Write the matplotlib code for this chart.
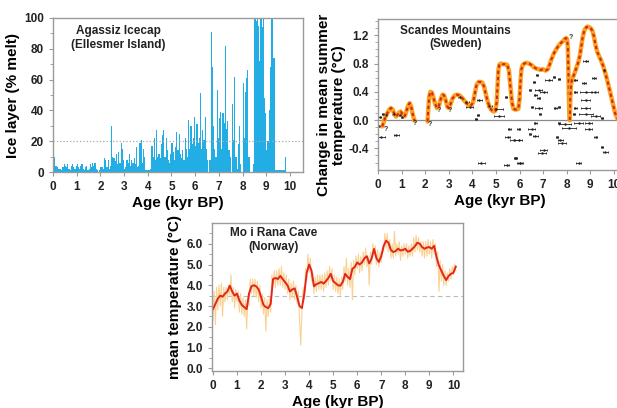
import matplotlib
matplotlib.use("Agg")
import matplotlib.pyplot as plt
import numpy as np

plt.rcParams['font.family'] = ['Liberation Sans', 'DejaVu Sans']
plt.rcParams['font.weight'] = 'bold'

# --- Agassiz icecap melt layers (0.05 kyr bins) ---
melt_start = 0.0
melt_step = 0.05
melt = [20, 10, 4, 3, 2, 2, 2, 1, 3, 5,
        4, 3, 5, 2, 1, 4, 5, 3, 2, 4,
        5, 3, 2, 4, 5, 2, 1, 3, 4, 1,
        2, 5, 3, 6, 4, 6, 2, 1, 0, 1,
        3, 3, 2, 9, 8, 3, 8, 2, 4, 30,
        10, 9, 7, 12, 5, 13, 6, 19, 15, 8,
        2, 3, 8, 6, 12, 4, 8, 6, 9, 5,
        16, 3, 4, 19, 21, 6, 15, 10, 1, 1,
        1, 1, 2, 17, 10, 22, 8, 27, 10, 12,
        9, 18, 24, 27, 10, 22, 14, 8, 6, 12,
        19, 13, 8, 16, 26, 14, 25, 12, 9, 14,
        8, 22, 15, 10, 34, 15, 30, 18, 22, 36,
        17, 31, 19, 22, 51, 15, 27, 21, 36, 15,
        8, 0, 8, 91, 68, 30, 15, 10, 53, 22,
        35, 39, 15, 38, 32, 82, 28, 33, 14, 10,
        0, 44, 21, 62, 10, 2, 18, 30, 5, 0,
        58, 22, 52, 61, 66, 10, 0, 0, 0, 5,
        100, 98, 100, 95, 72, 100, 94, 100, 48, 38,
        14, 20, 40, 68, 100, 100, 74, 1, 1, 1,
        1, 1, 1, 1, 1, 1, 10]
melt_age = melt_start + melt_step * np.arange(len(melt))

# --- Scandes Mountains reconstruction (three curve pieces) ---
sc1_x = [0.18, 0.25, 0.32, 0.4, 0.48, 0.55, 0.62, 0.7, 0.76, 0.82, 0.9, 0.96,
         1.02, 1.08, 1.14, 1.2, 1.27, 1.34, 1.4, 1.46, 1.52, 1.56]
sc1_y = [-0.09, -0.02, 0.05, 0.1, 0.15, 0.17, 0.15, 0.08, 0.05, 0.07, 0.11, 0.12,
         0.09, 0.05, 0.06, 0.12, 0.2, 0.24, 0.2, 0.1, 0.02, -0.01]
sc2_x = [2.1, 2.13, 2.17, 2.22, 2.28, 2.35, 2.42, 2.5, 2.58, 2.66, 2.74, 2.8,
         2.87, 2.94, 3.0, 3.07, 3.15, 3.25, 3.35, 3.45, 3.55, 3.65, 3.75, 3.85,
         3.95, 4.03, 4.1, 4.18, 4.26, 4.34, 4.42, 4.5, 4.58, 4.66, 4.74, 4.82,
         4.9, 4.97, 5.03, 5.07, 5.1, 5.14, 5.2, 5.3, 5.4, 5.48, 5.55, 5.62,
         5.68, 5.74, 5.8, 5.87, 5.95, 6.0, 6.04, 6.08, 6.13, 6.2, 6.3, 6.4,
         6.5, 6.6, 6.7, 6.8, 6.9, 7.0, 7.1, 7.2, 7.27, 7.35, 7.45, 7.55,
         7.65, 7.75, 7.85, 7.92, 7.98, 8.02, 8.05, 8.07, 8.09, 8.11, 8.13]
sc2_y = [-0.02, 0.15, 0.33, 0.4, 0.39, 0.32, 0.23, 0.17, 0.2, 0.3, 0.36, 0.35,
         0.28, 0.19, 0.17, 0.22, 0.3, 0.35, 0.36, 0.35, 0.32, 0.28, 0.24, 0.21,
         0.21, 0.25, 0.37, 0.5, 0.54, 0.54, 0.53, 0.47, 0.35, 0.25, 0.18, 0.14,
         0.12, 0.13, 0.25, 0.5, 0.7, 0.78, 0.8, 0.79, 0.79, 0.78, 0.7, 0.45,
         0.25, 0.16, 0.15, 0.15, 0.16, 0.3, 0.55, 0.72, 0.78, 0.8, 0.81, 0.8,
         0.78, 0.75, 0.73, 0.72, 0.71, 0.72, 0.7, 0.72, 0.78, 0.86, 0.94, 1.0,
         1.05, 1.09, 1.12, 1.15, 1.16, 1.14, 1.0, 0.7, 0.35, 0.08, 0.0]
sc3_x = [8.13, 8.15, 8.18, 8.22, 8.28, 8.35, 8.42, 8.5, 8.56, 8.62, 8.68, 8.74,
         8.8, 8.86, 8.92, 8.98, 9.04, 9.1, 9.16, 9.22, 9.3, 9.38, 9.46, 9.55,
         9.65, 9.75, 9.85, 9.95, 10.05, 10.15, 10.25]
sc3_y = [0.0, 0.3, 0.5, 0.57, 0.62, 0.68, 0.75, 0.83, 0.92, 1.05, 1.18, 1.26,
         1.3, 1.32, 1.32, 1.31, 1.29, 1.25, 1.17, 1.06, 0.96, 0.9, 0.84, 0.76,
         0.65, 0.52, 0.38, 0.24, 0.1, 0.02, 0.0]

# dated samples with age uncertainty
pt_x = [0.07, 0.03, 0.14, 0.78, 0.33, 0.66, 0.92, 1.03, 0.21,
        3.46, 3.74, 3.88, 4.3, 4.23, 4.16, 4.37, 4.72, 5.0, 5.12, 5.43, 5.5,
        5.57, 5.78, 5.85, 6.0, 5.45, 6.74, 7.23, 6.6, 7.45, 6.45, 6.81, 7.02,
        6.67, 6.81, 6.52, 6.81, 6.88, 7.66, 7.52, 7.66, 6.67, 6.52, 6.45, 6.67,
        5.96, 5.96, 7.02, 6.95, 5.82, 6.03, 7.66, 7.94, 8.08, 7.59, 7.73, 7.8,
        8.37, 8.73, 8.8, 9.15, 8.37, 8.8, 9.19, 8.8, 8.37, 8.8, 8.3, 8.8, 9.22,
        9.5, 9.57, 8.51, 8.94, 8.94, 9.22, 9.5, 9.64, 8.51]
pt_y = [0.05, -0.09, -0.24, -0.21, 0.07, 0.09, 0.07, 0.05, 0.09,
        0.33, 0.25, 0.18, 0.29, 0.07, 0.02, -0.61, 0.2, 0.16, 0.06, 0.32, -0.24,
        -0.12, -0.28, -0.54, -0.6, -0.64, 0.64, 0.57, 0.54, 0.61, 0.42, 0.42, 0.4,
        0.35, 0.31, 0.19, 0.17, 0.09, 0.19, 0.17, 0.58, -0.04, -0.12, -0.19, -0.23,
        -0.12, -0.28, -0.42, -0.47, -0.54, -0.61, -0.04, -0.06, -0.11, -0.24, -0.28, -0.32,
        0.57, 0.53, 0.83, 0.59, 0.4, 0.4, 0.4, 0.28, 0.17, 0.17, 0.09, 0.09, 0.06,
        0.03, 0.71, -0.04, -0.04, -0.12, -0.24, -0.38, -0.45, -0.61]
pt_err = [0.05, 0.1, 0.15, 0.1, 0.05, 0.05, 0.05, 0.05, 0.05,
          0.05, 0.1, 0.15, 0.1, 0.05, 0.05, 0.15, 0.1, 0.3, 0.2, 0.05, 0.1,
          0.05, 0.2, 0.05, 0.1, 0.1, 0.05, 0.15, 0.05, 0.05, 0.05, 0.15, 0.15,
          0.05, 0.05, 0.05, 0.15, 0.05, 0.05, 0.05, 0.05, 0.05, 0.15, 0.05, 0.1,
          0.05, 0.15, 0.15, 0.15, 0.05, 0.1, 0.05, 0.25, 0.3, 0.05, 0.1, 0.15,
          0.05, 0.1, 0.1, 0.1, 0.05, 0.25, 0.15, 0.2, 0.05, 0.2, 0.05, 0.3, 0.2,
          0.05, 0.05, 0.2, 0.15, 0.15, 0.05, 0.05, 0.1, 0.1]
q_x = [0.32, 1.55, 2.19, 2.58, 3.03, 8.18]
q_y = [-0.14, -0.05, -0.06, 0.13, 0.13, 1.17]

# --- Mo i Rana cave temperatures ---
cave_step = 0.05
cave_raw = [2.3, 3.7, 2.1, 3.9, 2.8, 4.0, 3.0, 4.1, 2.5, 3.9,
            3.2, 3.9, 3.3, 4.0, 3.5, 4.5, 3.2, 3.9, 2.9, 3.8,
            3.2, 3.7, 2.7, 3.6, 2.6, 3.4, 2.5, 3.3, 1.9, 3.2,
            3.0, 4.3, 3.6, 4.3, 3.5, 4.3, 3.4, 4.2, 3.2, 4.0,
            2.9, 3.6, 2.6, 3.4, 1.8, 3.3, 2.5, 3.4, 2.7, 4.5,
            4.0, 4.7, 3.9, 4.7, 4.0, 4.8, 4.0, 4.9, 3.9, 4.6,
            3.8, 4.5, 3.6, 4.3, 3.3, 4.1, 3.4, 4.2, 3.3, 4.0,
            3.1, 3.7, 2.4, 1.1, 2.7, 3.9, 3.3, 4.8, 4.3, 5.5,
            4.6, 5.3, 4.2, 4.6, 3.6, 4.4, 3.7, 4.5, 3.8, 4.5,
            3.8, 4.5, 3.7, 4.6, 3.9, 4.7, 4.0, 4.9, 4.2, 4.8,
            3.8, 4.5, 3.7, 4.4, 3.6, 4.3, 3.5, 4.4, 3.8, 4.9,
            4.2, 5.3, 4.0, 4.8, 3.9, 5.1, 3.3, 5.2, 4.5, 5.4,
            4.8, 5.5, 4.6, 5.4, 4.7, 5.6, 5.0, 5.8, 4.9, 5.4,
            4.0, 5.6, 5.0, 6.0, 5.4, 5.9, 5.0, 5.7, 4.9, 5.6,
            5.1, 5.8, 5.6, 6.5, 5.8, 6.5, 5.6, 6.2, 5.3, 6.0,
            5.3, 6.6, 5.4, 6.0, 5.5, 6.1, 5.2, 5.9, 5.4, 6.0,
            5.5, 6.0, 5.3, 5.9, 5.4, 6.0, 5.4, 6.3, 5.6, 6.4,
            5.7, 6.3, 5.6, 6.1, 5.4, 6.1, 5.3, 6.1, 5.4, 6.2,
            5.5, 6.1, 5.3, 6.2, 5.5, 6.0, 4.9, 5.6, 3.7, 5.2,
            4.2, 5.0, 4.0, 4.7, 4.0, 4.6, 4.2, 4.8, 4.3, 4.9,
            4.5, 5.0, 4.7]
cave_raw_age = cave_step * np.arange(len(cave_raw))
cave_smooth = [2.85, 3.1, 3.35, 3.5, 3.45, 3.6, 3.7, 3.98, 3.7, 3.5,
               3.6, 3.26, 3.05, 2.95, 2.85, 3.6, 3.95, 4.0, 3.95, 3.8,
               3.45, 3.05, 2.95, 2.9, 3.1, 4.3, 4.35, 4.3, 4.45, 4.3,
               4.15, 4.0, 3.7, 3.8, 3.85, 3.45, 3.0, 2.9, 3.6, 4.6,
               5.0, 4.7, 3.95, 4.05, 4.1, 4.16, 4.08, 4.2, 4.35, 4.55,
               4.2, 4.1, 4.0, 3.98, 4.16, 4.55, 4.4, 4.3, 4.8, 4.88,
               5.1, 5.0, 5.1, 5.3, 5.4, 5.05, 5.3, 5.75, 5.3, 5.12,
               5.4, 5.9, 6.15, 6.05, 5.7, 5.6, 5.65, 5.76, 5.68, 5.7,
               5.76, 5.62, 5.65, 5.76, 5.88, 6.05, 6.0, 5.84, 5.76, 5.82,
               5.84, 5.76, 5.9, 5.35, 4.95, 4.7, 4.45, 4.25, 4.45, 4.55,
               4.6, 4.9]
cave_smooth_age = 0.1 * np.arange(len(cave_smooth))

W, H = 617, 408
fig = plt.figure(figsize=(W / 100, H / 100), dpi=100)


def make_axes(left, top, right, bottom):
    return fig.add_axes([left / W, 1 - bottom / H, (right - left) / W, (bottom - top) / H])


def style(ax):
    for s in ax.spines.values():
        s.set_color('#9a9a9a')
        s.set_linewidth(1.0)
    ax.tick_params(which='both', direction='out', colors='#9a9a9a', labelcolor='#222222',
                   labelsize=8.5)
    ax.tick_params(which='major', length=3)
    ax.tick_params(which='minor', length=2)
    for lab in ax.get_xticklabels() + ax.get_yticklabels():
        lab.set_fontweight('bold')


# panel 1
ax1 = make_axes(53, 18, 303, 172)
ax1.bar(melt_age, melt, width=melt_step, align='edge', color='#22ade4', linewidth=0)
ax1.axhline(20, color='#aaaaaa', ls=':', lw=0.9)
ax1.set_xlim(0, 10.55)
ax1.set_ylim(0, 100)
ax1.set_xticks(range(0, 11))
ax1.set_yticks(range(0, 101, 20))
ax1.set_yticks(range(0, 101, 10), minor=True)
ax1.set_xlabel('Age (kyr BP)', fontsize=11, fontweight='bold', labelpad=2)
ax1.set_ylabel('Ice layer (% melt)', fontsize=11, fontweight='bold', labelpad=3)
ax1.text(0.26, 0.87, 'Agassiz Icecap\n(Ellesmer Island)', transform=ax1.transAxes,
         ha='center', va='center', fontsize=8.5, fontweight='bold', color='#222222')
style(ax1)

# panel 2
ax2 = make_axes(378, 19, 621, 170)
ax2.axhline(0, color='#8a8a8a', lw=0.9)
ax2.errorbar(pt_x, pt_y, xerr=pt_err, fmt='.', ms=1.5, color='#222222',
             ecolor='#222222', elinewidth=0.6, capsize=1.0, capthick=0.6)
for qx, qy in zip(q_x, q_y):
    ax2.text(qx, qy, '?', fontsize=5, ha='center', va='center', color='#333333')
for xs, ys in [(sc1_x, sc1_y), (sc2_x, sc2_y), (sc3_x, sc3_y)]:
    ax2.plot(xs, ys, color='#f7a51f', lw=3.2, solid_capstyle='round')
    ax2.plot(xs, ys, color='#d8231b', lw=1.5, ls=(0, (1.6, 1.4)))
ax2.set_xlim(0, 10.3)
ax2.set_ylim(-0.706, 1.43)
ax2.set_xticks(range(0, 11))
ax2.set_yticks([-0.4, 0.0, 0.4, 0.8, 1.2])
ax2.set_yticklabels(['-0.4', '0.0', '0.4', '0.8', '1.2'])
ax2.set_yticks(np.arange(-0.6, 1.41, 0.1), minor=True)
ax2.set_xlabel('Age (kyr BP)', fontsize=11, fontweight='bold', labelpad=2)
ax2.set_ylabel('Change in mean summer\ntemperature (°C)', fontsize=11,
               fontweight='bold', linespacing=1.1)
ax2.yaxis.set_label_coords(-0.13, 0.43)
ax2.text(0.32, 0.877, 'Scandes Mountains\n(Sweden)', transform=ax2.transAxes,
         ha='center', va='center', fontsize=8.5, fontweight='bold', color='#222222')
style(ax2)

# panel 3
ax3 = make_axes(212, 223, 463, 371)
ax3.axhline(3.5, color='#bbbbbb', ls='--', lw=0.8, dashes=(4, 3))
ax3.plot(cave_raw_age, cave_raw, color='#f9d293', lw=0.8)
ax3.plot(cave_smooth_age, cave_smooth, color='#e3251c', lw=1.4)
ax3.set_xlim(-0.04, 10.4)
ax3.set_ylim(-0.13, 7.0)
ax3.set_xticks(range(0, 11))
ax3.set_yticks(range(0, 7))
ax3.set_yticklabels(['%.1f' % v for v in range(0, 7)])
ax3.set_yticks(np.arange(0, 7, 0.5), minor=True)
ax3.set_xlabel('Age (kyr BP)', fontsize=11, fontweight='bold', labelpad=2)
ax3.set_ylabel('mean temperature (°C)', fontsize=11, fontweight='bold', labelpad=3)
ax3.text(0.247, 0.885, 'Mo i Rana Cave\n(Norway)', transform=ax3.transAxes,
         ha='center', va='center', fontsize=8.5, fontweight='bold', color='#222222')
style(ax3)

fig.savefig('out.png', dpi=100)
